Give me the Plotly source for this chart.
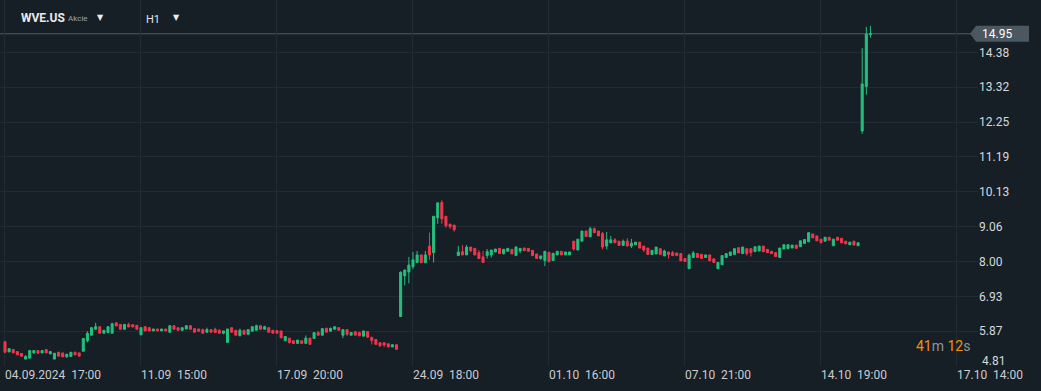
import plotly.graph_objects as go

# ---- data (H1 candles, WVE.US) ----
opens = [
    5.55, 5.24, 5.31, 5.25, 5.19, 5.02, 5.05, 5.21, 5.28, 5.21,
    5.31, 5.18, 5.02, 5.23, 5.21, 5.09, 5.10, 5.23, 5.21, 5.26,
    5.58, 5.75, 5.93, 6.01, 5.81, 5.83, 5.81, 6.13, 6.08, 5.93,
    6.08, 6.07, 6.05,
    5.76, 6.01, 5.98, 5.88, 5.94, 5.88, 5.94, 5.84, 6.04, 5.98,
    5.90, 5.94, 6.04, 5.95, 5.94, 5.92, 5.84, 5.92, 5.93, 5.90,
    5.81, 5.53, 5.98, 5.90, 5.73, 5.90, 5.78, 5.87, 5.90, 6.04,
    5.93, 5.98, 5.90, 5.89,
    5.88, 5.58, 5.66, 5.58, 5.50, 5.58, 5.50, 5.66, 5.65, 5.83,
    5.75, 5.96, 5.87, 5.93, 5.98, 5.75, 5.92, 5.75, 5.86, 5.83,
    5.72, 5.86, 5.68, 5.62, 5.52, 5.52, 5.49, 5.39, 5.46,
    6.32, 7.56, 7.68, 7.84, 7.97, 8.20, 7.96, 8.47, 8.27, 9.33,
    9.80, 9.38, 9.14, 9.11, 8.18, 8.30, 8.20, 8.44, 8.40, 8.27,
    8.14, 8.18, 8.20, 8.29, 8.40, 8.24, 8.31, 8.37, 8.18, 8.32,
    8.41, 8.40, 8.34, 8.23, 8.09, 8.03, 8.28, 8.03, 8.20, 8.31,
    8.20, 8.20, 8.62, 8.35, 8.62, 8.93,
    8.75, 9.00, 8.93, 8.85, 8.47, 8.57, 8.66, 8.62, 8.49, 8.62,
    8.47, 8.51, 8.59, 8.47, 8.41, 8.21, 8.23, 8.39, 8.17, 8.29,
    8.27, 8.26, 8.24, 8.09, 7.78, 8.12, 8.24, 8.22, 8.12, 8.20,
    8.08, 7.78, 7.90, 8.12,
    8.18, 8.21, 8.42, 8.24, 8.39, 8.39, 8.30, 8.32, 8.47, 8.37,
    8.31, 8.27, 8.12, 8.38, 8.39, 8.41, 8.50, 8.45, 8.55, 8.60,
    8.84, 8.78, 8.68, 8.62, 8.74, 8.48, 8.74, 8.71, 8.62, 8.51, 8.62, 8.48,
    11.98, 13.34, 14.92,
]
highs = [
    5.57, 5.34, 5.31, 5.25, 5.19, 5.14, 5.28, 5.28, 5.28, 5.28,
    5.31, 5.25, 5.20, 5.23, 5.21, 5.17, 5.23, 5.25, 5.21, 5.65,
    5.87, 5.98, 6.13, 6.01, 5.90, 6.01, 6.13, 6.13, 6.08, 6.08,
    6.13, 6.07, 6.05,
    5.98, 6.01, 5.98, 5.94, 5.94, 5.94, 5.94, 6.04, 6.04, 5.98,
    5.98, 6.04, 6.04, 5.95, 5.94, 5.95, 5.98, 5.92, 5.98, 5.93,
    5.88, 5.94, 5.98, 5.90, 5.95, 5.90, 5.92, 6.01, 6.07, 6.04,
    6.04, 5.98, 5.90, 5.89,
    5.88, 5.71, 5.66, 5.58, 5.60, 5.58, 5.74, 5.66, 5.83, 5.88,
    5.95, 5.98, 5.98, 6.01, 5.98, 5.92, 5.92, 5.83, 5.86, 5.86,
    5.88, 5.86, 5.71, 5.62, 5.52, 5.52, 5.49, 5.46, 5.46,
    7.70, 7.74, 8.14, 8.29, 8.32, 8.20, 8.32, 8.88, 9.38, 9.79,
    9.87, 9.38, 9.14, 9.11, 8.47, 8.50, 8.50, 8.44, 8.40, 8.35,
    8.32, 8.38, 8.35, 8.38, 8.40, 8.37, 8.40, 8.37, 8.47, 8.40,
    8.41, 8.40, 8.34, 8.23, 8.17, 8.31, 8.28, 8.25, 8.31, 8.31,
    8.29, 8.29, 8.62, 8.68, 8.93, 8.93,
    9.06, 9.04, 8.93, 8.90, 8.90, 8.78, 8.71, 8.62, 8.67, 8.71,
    8.69, 8.59, 8.59, 8.47, 8.41, 8.34, 8.44, 8.39, 8.36, 8.29,
    8.32, 8.26, 8.24, 8.09, 8.24, 8.32, 8.24, 8.22, 8.20, 8.20,
    8.08, 7.97, 8.18, 8.24,
    8.29, 8.39, 8.42, 8.44, 8.39, 8.39, 8.45, 8.47, 8.47, 8.37,
    8.31, 8.27, 8.41, 8.51, 8.51, 8.50, 8.50, 8.63, 8.67, 8.88,
    8.84, 8.78, 8.68, 8.74, 8.74, 8.68, 8.74, 8.71, 8.62, 8.59, 8.62, 8.57,
    14.51, 15.16, 15.19,
]
lows = [
    5.20, 5.24, 5.21, 5.15, 5.09, 5.02, 5.05, 5.18, 5.20, 5.21,
    5.21, 5.18, 5.02, 5.11, 5.09, 5.06, 5.10, 5.15, 5.11, 5.26,
    5.53, 5.75, 5.93, 5.81, 5.81, 5.83, 5.81, 6.03, 5.93, 5.93,
    6.00, 6.00, 5.93,
    5.76, 5.88, 5.88, 5.88, 5.88, 5.88, 5.88, 5.84, 5.93, 5.90,
    5.87, 5.94, 5.93, 5.84, 5.87, 5.81, 5.84, 5.84, 5.83, 5.81,
    5.78, 5.53, 5.84, 5.75, 5.73, 5.78, 5.75, 5.87, 5.90, 5.93,
    5.93, 5.84, 5.81, 5.81,
    5.67, 5.58, 5.49, 5.50, 5.50, 5.50, 5.50, 5.47, 5.65, 5.75,
    5.75, 5.84, 5.87, 5.93, 5.90, 5.66, 5.72, 5.75, 5.75, 5.73,
    5.72, 5.69, 5.47, 5.47, 5.39, 5.39, 5.39, 5.39, 5.32,
    6.32, 7.27, 7.33, 7.77, 7.97, 7.96, 7.96, 8.05, 7.97, 9.15,
    9.15, 9.03, 9.00, 8.91, 8.18, 8.20, 8.20, 8.28, 8.20, 8.09,
    7.97, 8.09, 8.12, 8.29, 8.24, 8.21, 8.31, 8.23, 8.18, 8.25,
    8.33, 8.31, 8.18, 8.09, 8.05, 7.86, 7.99, 8.03, 8.20, 8.20,
    8.20, 8.20, 8.33, 8.35, 8.62, 8.76,
    8.75, 8.88, 8.78, 8.37, 8.37, 8.57, 8.57, 8.49, 8.49, 8.47,
    8.41, 8.51, 8.41, 8.29, 8.21, 8.21, 8.23, 8.21, 8.17, 8.09,
    8.18, 8.18, 8.02, 8.00, 7.78, 8.12, 8.12, 8.09, 8.12, 8.02,
    7.97, 7.78, 7.90, 8.12,
    8.18, 8.21, 8.26, 8.24, 8.18, 8.15, 8.30, 8.32, 8.30, 8.27,
    8.24, 8.15, 8.12, 8.38, 8.39, 8.41, 8.40, 8.45, 8.55, 8.60,
    8.72, 8.63, 8.57, 8.62, 8.65, 8.48, 8.65, 8.57, 8.54, 8.51, 8.50, 8.48,
    11.90, 13.09, 14.83,
]
closes = [
    5.23, 5.34, 5.21, 5.15, 5.11, 5.10, 5.28, 5.28, 5.20, 5.28,
    5.21, 5.25, 5.20, 5.11, 5.09, 5.17, 5.23, 5.15, 5.11, 5.65,
    5.81, 5.98, 6.01, 5.81, 5.90, 6.01, 6.10, 6.03, 5.93, 6.08,
    6.00, 6.00, 5.93,
    5.98, 5.88, 5.88, 5.94, 5.88, 5.94, 5.88, 6.04, 5.93, 5.90,
    5.98, 6.04, 5.93, 5.84, 5.87, 5.81, 5.92, 5.84, 5.83, 5.81,
    5.88, 5.94, 5.84, 5.75, 5.90, 5.78, 5.92, 6.01, 6.04, 5.93,
    6.01, 5.84, 5.81, 5.81,
    5.67, 5.71, 5.53, 5.50, 5.60, 5.50, 5.66, 5.47, 5.83, 5.75,
    5.95, 5.84, 5.96, 6.01, 5.90, 5.92, 5.78, 5.83, 5.75, 5.73,
    5.88, 5.69, 5.59, 5.47, 5.43, 5.45, 5.39, 5.46, 5.32,
    7.67, 7.74, 7.89, 8.05, 8.20, 7.96, 8.20, 8.20, 9.38, 9.79,
    9.30, 9.09, 9.06, 8.97, 8.29, 8.20, 8.44, 8.33, 8.20, 8.09,
    7.97, 8.30, 8.35, 8.38, 8.24, 8.37, 8.40, 8.23, 8.44, 8.40,
    8.33, 8.31, 8.18, 8.09, 8.17, 8.31, 7.99, 8.25, 8.31, 8.20,
    8.29, 8.29, 8.38, 8.68, 8.93, 8.76,
    9.00, 8.88, 8.78, 8.44, 8.66, 8.66, 8.57, 8.49, 8.62, 8.47,
    8.56, 8.59, 8.41, 8.35, 8.21, 8.34, 8.44, 8.21, 8.32, 8.21,
    8.18, 8.18, 8.02, 8.00, 8.19, 8.26, 8.12, 8.09, 8.20, 8.02,
    7.97, 7.97, 8.18, 8.24,
    8.29, 8.39, 8.26, 8.44, 8.24, 8.27, 8.45, 8.47, 8.30, 8.27,
    8.24, 8.15, 8.41, 8.51, 8.51, 8.50, 8.40, 8.63, 8.67, 8.88,
    8.72, 8.63, 8.57, 8.74, 8.65, 8.68, 8.65, 8.57, 8.54, 8.59, 8.50, 8.57,
    13.42, 14.94, 14.95,
]

# time-slot index of each candle (one slot per trading hour)
slots = list(range(len(closes)))

x_tick_slots = [0, 33, 66, 99, 132, 165, 198, 231]
x_tick_dates = ["04.09.2024", "11.09", "17.09", "24.09", "01.10", "07.10", "14.10", "17.10"]
x_tick_times = ["17:00", "15:00", "20:00", "18:00", "16:00", "21:00", "19:00", "14:00"]

y_ticks = [4.81, 5.87, 6.93, 8.00, 9.06, 10.13, 11.19, 12.25, 13.32, 14.38]
last_price = 14.95
x_range = [-1.21, 236.1]
y_range = [4.81, 15.98]

BG = "#171f26"
GRID = "#222b33"
GREEN = "#23c07f"
RED = "#f2364b"
FONT = "Roboto"

fig = go.Figure()
fig.add_trace(go.Candlestick(
    x=slots, open=opens, high=highs, low=lows, close=closes,
    increasing=dict(line=dict(color=GREEN, width=1), fillcolor=GREEN),
    decreasing=dict(line=dict(color=RED, width=1), fillcolor=RED),
    whiskerwidth=0, hoverinfo="skip", showlegend=False,
))

ticktext = [d + "\u00a0\u00a0" + t for d, t in zip(x_tick_dates, x_tick_times)]
# lowest y label is drawn separately (lifted above the time axis)
y_ticktext = [""] + [f"{v:.2f}" for v in y_ticks[1:]]

fig.update_layout(
    width=1041, height=391,
    margin=dict(l=0, r=63, t=0, b=25),
    paper_bgcolor=BG, plot_bgcolor=BG,
    font=dict(family=FONT, size=12, color="#c9cdd1"),
    showlegend=False,
    xaxis=dict(
        range=x_range, rangeslider=dict(visible=False),
        tickmode="array", tickvals=x_tick_slots, ticktext=ticktext,
        ticklabelposition="outside right",
        showgrid=True, gridcolor=GRID, gridwidth=1, zeroline=False,
        showline=False, ticks="",
        tickfont=dict(family=FONT, size=12, color="#c9cdd1"),
    ),
    yaxis=dict(
        side="right", range=y_range,
        tickmode="array", tickvals=y_ticks, ticktext=y_ticktext,
        showgrid=True, gridcolor=GRID, gridwidth=1, zeroline=False,
        showline=False, ticks="",
        tickfont=dict(family=FONT, size=12, color="#d6d9dc"),
    ),
)

fig.add_annotation(xref="paper", x=1, xanchor="left", xshift=2, yref="y", y=y_ticks[0], yshift=5,
                   text=f"{y_ticks[0]:.2f}", showarrow=False,
                   font=dict(family=FONT, size=12, color="#d6d9dc"))

# last-price line and marker
fig.add_shape(type="line", xref="paper", x0=0, x1=1, yref="y", y0=last_price, y1=last_price,
              line=dict(color="#4f5b64", width=1), layer="below")
fig.add_shape(type="path", xref="paper", xsizemode="pixel", xanchor=1,
              yref="y", ysizemode="pixel", yanchor=last_price,
              path="M -8 0 L -2 8 L 51 8 L 51 -8 L -2 -8 Z",
              fillcolor="#4b5761", line=dict(width=0))
fig.add_annotation(xref="paper", x=1, xanchor="left", xshift=2, yref="y", y=last_price,
                   text=f"{last_price:.2f}", showarrow=False,
                   font=dict(family=FONT, size=12, color="#ffffff"))

# header
fig.add_annotation(xref="paper", yref="paper", x=19 / 978, y=1 - 18 / 366, xanchor="left", yanchor="middle",
                   text="<b>WVE.US</b>", showarrow=False, font=dict(family=FONT, size=12, color="#e8eaec"))
fig.add_annotation(xref="paper", yref="paper", x=66 / 978, y=1 - 19 / 366, xanchor="left", yanchor="middle",
                   text="Akcie", showarrow=False, font=dict(family=FONT, size=8, color="#9aa2a9"))
fig.add_annotation(xref="paper", yref="paper", x=95 / 978, y=1 - 17 / 366, xanchor="left", yanchor="middle",
                   text="▼", showarrow=False, font=dict(family="DejaVu Sans", size=8, color="#e8eaec"))
fig.add_annotation(xref="paper", yref="paper", x=144 / 978, y=1 - 20 / 366, xanchor="left", yanchor="middle",
                   text="H1", showarrow=False, font=dict(family=FONT, size=11, color="#e0e3e6"))
fig.add_annotation(xref="paper", yref="paper", x=171 / 978, y=1 - 17 / 366, xanchor="left", yanchor="middle",
                   text="▼", showarrow=False, font=dict(family="DejaVu Sans", size=8, color="#e8eaec"))

# countdown
fig.add_annotation(xref="paper", yref="paper", x=914 / 978, y=(366 - 346) / 366, xanchor="left", yanchor="middle",
                   text='<span style="color:#f39200">41</span><span style="color:#8c949b">m </span>'
                        '<span style="color:#f39200">12</span><span style="color:#8c949b">s</span>',
                   showarrow=False, font=dict(family=FONT, size=14))

fig.write_html("out.html", config={"displayModeBar": False},
               post_script="document.body.style.margin='0';")
